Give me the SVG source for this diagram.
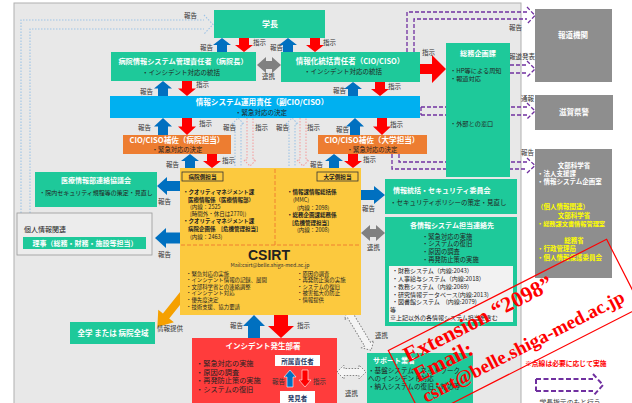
<svg xmlns="http://www.w3.org/2000/svg" width="632" height="403" viewBox="0 0 632 403">
<style>
text{font-family:"Noto Sans CJK JP","Noto Sans",sans-serif}
.g{fill:#1ec99a}
.wb{fill:#fff;font-weight:bold}
.dk{fill:#222}
.lb{font-size:6.5px;fill:#333}
.bu{fill:#0070c0}
.rd{fill:#ff0000}
.gr{fill:#8e8e8e}
.ga{fill:#808080}
.pu{fill:none;stroke:#7030a0;stroke-width:1.3;stroke-dasharray:4 2}
.bd{fill:none;stroke:#9dc3e6;stroke-width:1.1;stroke-dasharray:1.5 1.5}
.rdd{fill:none;stroke:#f4a0a0;stroke-width:1.1;stroke-dasharray:1.5 1.5}
.gd{fill:#f4f4f4;stroke:#777;stroke-width:0.9;stroke-dasharray:1.5 1.5}
.wm{fill:#ff0000;font-family:"Liberation Serif",serif;font-weight:bold}
</style>
<rect width="632" height="403" fill="#fff"/>
<rect x="14" y="3" width="507" height="410" fill="#e8e8e8" stroke="#b0b0b0" stroke-width="1"/>

<g id="connectors">
<path class="bd" d="M21,213 V20 H204 M30,213 V29 H204 M204,15 L213,24.5 L204,34"/>
<path class="bu" d="M222,38 L231,45 H227 V52 H217 V45 H213 Z"/>
<path class="rd" d="M244,52 L253,45 H249 V38 H239 V45 H235 Z"/>
<path class="bu" d="M288,38 L297,45 H293 V52 H283 V45 H279 Z"/>
<path class="rd" d="M315,52 L324,45 H320 V38 H310 V45 H306 Z"/>
<path class="bu" d="M163,81 L172,88.5 H168 V96 H158 V88.5 H154 Z"/>
<path class="rd" d="M187,96 L196,88.5 H192 V81 H182 V88.5 H178 Z"/>
<path class="bu" d="M353,82 L362,89 H358 V96 H348 V89 H344 Z"/>
<path class="rd" d="M380,96 L389,89 H385 V82 H375 V89 H371 Z"/>
<path class="bu" d="M163,118 L172,126.5 H168 V135 H158 V126.5 H154 Z"/>
<path class="rd" d="M187,135 L196,126.5 H192 V118 H182 V126.5 H178 Z"/>
<path class="bu" d="M355,118 L364,126.5 H360 V135 H350 V126.5 H346 Z"/>
<path class="rd" d="M382,135 L391,126.5 H387 V118 H377 V126.5 H373 Z"/>
<path class="bd" d="M235,166 V124 H232 L238,118 L244,124 H241 V166"/>
<path class="rdd" d="M247,118 V160 H244 L250,166 L256,160 H253 V118"/>
<path class="bd" d="M289,166 V124 H286 L292,118 L298,124 H295 V166"/>
<path class="rdd" d="M300,118 V160 H297 L303,166 L309,160 H306 V118"/>
<path class="bu" d="M190,154 L199,161 H195 V168 H185 V161 H181 Z"/>
<path class="rd" d="M212,168 L221,161 H217 V154 H207 V161 H203 Z"/>
<path class="bu" d="M334,154 L343,161 H339 V168 H329 V161 H325 Z"/>
<path class="rd" d="M353,168 L362,161 H358 V154 H348 V161 H344 Z"/>
<path class="bu" d="M254,315 L265,326 H260 V338 H248 V326 H243 Z"/>
<path class="rd" d="M281,338 L294,326 H288 V315 H274 V326 H268 Z"/>
<path class="bu" d="M157,186 L167,177 V181 H180 V191 H167 V195 Z"/>
<path class="bu" d="M155,238 L166,228 V232.5 H180 V243.5 H166 V248 Z"/>
<path class="bu" d="M385,195 L374,186 V190 H361 V200 H374 V204 Z"/>
<path class="ga" d="M257,65 L266,57 V61 H272 V57 L281,65 L272,73 V69 H266 V73 Z"/>
<path class="ga" d="M361,233 L370,225 V229 H376 V225 L385,233 L376,241 V237 H370 V241 Z"/>
<path class="rd" d="M420,64 H432 V55 L446,69 L432,83 V74 H420 Z"/>
<path class="pu" d="M407,52 V12 H527 M414,52 V19 H527 M527,7 L535,15.5 L527,24"/>
<path class="pu" d="M510,65 H527 M510,73 H527 M527,61 L535,69 L527,77"/>
<path class="pu" d="M421,107 V115 M421,107 H527 M421,115 H527 M527,103 L535,111 L527,119"/>
<path class="pu" d="M392,154 V169 H527 M399,154 V162 H527 M527,158 L535,165.5 L527,173"/>
<path fill="#f5a000" transform="translate(186,291) rotate(128.5)" d="M0,-4 H32 V-10 L46,0 L32,10 V4 H0 Z"/>
<path class="gd" transform="translate(347,310) rotate(59)" d="M0,0 L7,-7 V-3.5 H40 V-7 L47,0 L40,7 V3.5 H7 V7 Z"/>
<path class="gd" d="M337,372 L344,365 V368.5 H359 V365 L366,372 L359,379 V375.5 H344 V379 Z"/>
</g>

<g id="labels">
<text class="lb" x="184" y="18">報告</text>
<text class="lb" x="200" y="50">報告</text>
<text class="lb" x="253" y="45">指示</text>
<text class="lb" x="270" y="50">報告</text>
<text class="lb" x="323" y="45">指示</text>
<text class="lb" x="140" y="94">報告</text>
<text class="lb" x="196" y="87">指示</text>
<text class="lb" x="333" y="93">報告</text>
<text class="lb" x="388" y="89">指示</text>
<text class="lb" x="138" y="130">報告</text>
<text class="lb" x="199" y="126">指示</text>
<text class="lb" x="223" y="130">報告</text>
<text class="lb" x="255" y="130">指示</text>
<text class="lb" x="276" y="130">報告</text>
<text class="lb" x="307" y="130">指示</text>
<text class="lb" x="336" y="132">報告</text>
<text class="lb" x="390" y="127">指示</text>
<text class="lb" x="166" y="167">報告</text>
<text class="lb" x="222" y="163">指示</text>
<text class="lb" x="310" y="167">報告</text>
<text class="lb" x="363" y="162">指示</text>
<text class="lb" x="158" y="204">報告</text>
<text class="lb" x="158" y="257">報告</text>
<text class="lb" x="362" y="211">報告</text>
<text class="lb" x="262" y="79">連携</text>
<text class="lb" x="367" y="250">連携</text>
<text class="lb" x="422" y="55">指示</text>
<text class="lb" x="509" y="30">報告</text>
<text class="lb" x="509" y="59">報道発表</text>
<text class="lb" x="521" y="101">通報</text>
<text class="lb" x="521" y="155">報告</text>
<text class="lb" x="230" y="328">報告</text>
<text class="lb" x="297" y="328">指示</text>
<text class="lb" x="157" y="331">情報提供</text>
<text class="lb" x="375" y="338">連携</text>
<text class="lb" x="345" y="396">連携</text>
</g>

<g id="gakucho"><rect class="g" x="214" y="10" width="111" height="28"/><text class="wb" x="270" y="27" font-size="8" text-anchor="middle">学長</text></g>

<g id="byoincho"><rect class="g" x="111" y="52" width="145" height="29"/>
<text class="wb" x="183" y="64" font-size="7.2" text-anchor="middle">病院情報システム管理責任者（病院長）</text>
<text class="dk" x="181" y="75" font-size="6.5" text-anchor="middle">・インシデント対応の統括</text></g>

<g id="cio"><rect class="g" x="281" y="52" width="139" height="30"/>
<text class="wb" x="350" y="64" font-size="7.5" text-anchor="middle">情報化統括責任者（CIO/CISO）</text>
<text class="dk" x="343" y="74" font-size="6.5" text-anchor="middle">・インシデント対応の統括</text></g>

<g id="fukucio"><rect x="110" y="96" width="310" height="22" fill="#00b0f0"/>
<text class="wb" x="262" y="105" font-size="7.6" text-anchor="middle">情報システム運用責任（副CIO/CISO）</text>
<text class="dk" x="261" y="115" font-size="6.5" text-anchor="middle">・緊急対応の決定</text></g>

<g id="hosa-byoin"><rect x="123" y="135" width="108" height="19" fill="#ed7d31"/>
<text class="wb" x="177" y="143" font-size="7.6" text-anchor="middle">CIO/CISO補佐（病院担当）</text>
<text class="dk" x="177" y="152" font-size="6.3" text-anchor="middle">・緊急対応の決定</text></g>

<g id="hosa-daigaku"><rect x="318" y="135" width="109" height="19" fill="#ed7d31"/>
<text class="wb" x="372" y="143" font-size="7.6" text-anchor="middle">CIO/CISO補佐（大学担当）</text>
<text class="dk" x="372" y="152" font-size="6.3" text-anchor="middle">・緊急対応の決定</text></g>

<g id="somu"><rect class="g" x="446" y="43" width="64" height="134"/>
<text class="wb" x="478" y="56" font-size="7.2" text-anchor="middle">総務企画課</text>
<text class="dk" x="450" y="72.5" font-size="6.2">・HP等による周知</text>
<text class="dk" x="450" y="81" font-size="6.2">・報道対応</text>
<text class="dk" x="450" y="126" font-size="6.2">・外部との窓口</text></g>

<g id="iryo"><rect class="g" x="35" y="172" width="122" height="35"/>
<text class="wb" x="96" y="183" font-size="7" text-anchor="middle">医療情報部連絡協議会</text>
<text class="dk" x="96" y="195" font-size="6" text-anchor="middle">・院内セキュリティ規程等の策定・見直し</text></g>

<g id="kojin"><rect x="17" y="213" width="135" height="42" fill="#ececec" stroke="#999" stroke-width="0.8"/>
<text class="dk" x="24" y="232" font-size="7">個人情報関連</text>
<rect class="g" x="23" y="237" width="123" height="12"/>
<text class="wb" x="85" y="246" font-size="7" text-anchor="middle">理事（総務・財務・施設等担当）</text></g>

<g id="csirt"><rect x="180" y="168" width="181" height="147" fill="#fcc93e"/>
<path d="M275,169 V245 M181,245 H360" stroke="#f08030" stroke-width="1" stroke-dasharray="4 2" fill="none"/>
<rect x="182" y="172" width="41" height="9" fill="none" stroke="#333" stroke-width="0.8"/>
<text x="202.5" y="179" font-size="5.6" text-anchor="middle" font-weight="bold" fill="#222">病院側担当</text>
<rect x="317" y="172" width="41" height="9" fill="none" stroke="#333" stroke-width="0.8"/>
<text x="337.5" y="179" font-size="5.6" text-anchor="middle" font-weight="bold" fill="#222">大学側担当</text>
<g font-size="5.5" fill="#222">
<text x="183" y="194" font-weight="bold">・クオリティマネジメント課</text>
<text x="188" y="201.5" font-weight="bold">医療情報係（医療情報部）</text>
<text x="190" y="208.7">(内線：2525</text>
<text x="190" y="215.9">[時間外・休日は2770])</text>
<text x="183" y="223.3" font-weight="bold">・クオリティマネジメント課</text>
<text x="188" y="231" font-weight="bold">病院企画係　[危機管理担当]</text>
<text x="190" y="239">(内線：2463)</text>
<text x="287" y="194" font-weight="bold">・情報課情報総括係</text>
<text x="293" y="202">(MMC)</text>
<text x="297" y="209.5">(内線：2098)</text>
<text x="287" y="217" font-weight="bold">・総務企画課総務係</text>
<text x="292" y="224.5" font-weight="bold">[危機管理担当]</text>
<text x="297" y="232">(内線：2008)</text>
</g>
<text x="269" y="260" font-size="14" font-weight="bold" text-anchor="middle" fill="#222" style="font-family:'Liberation Sans',sans-serif">CSIRT</text>
<text x="270" y="266.5" font-size="5.2" text-anchor="middle" fill="#333">Mail:csirt@belle.shiga-med.ac.jp</text>
<g font-size="5.4" fill="#222">
<text x="186" y="275.5">・緊急対応の実施</text>
<text x="186" y="282">・インシデント情報の記録、展開</text>
<text x="186" y="288.7">・文部科学省との連絡調整</text>
<text x="186" y="295.4">・インシデント対応</text>
<text x="186" y="302.1">・優先度決定</text>
<text x="186" y="308.8">・技術支援、協力要請</text>
<text x="297" y="275.5">・原因の調査</text>
<text x="297" y="282">・再発防止策の実施</text>
<text x="297" y="288.7">・システムの復旧</text>
<text x="297" y="295.4">・被害拡大の防止</text>
<text x="297" y="302.1">・情報提供</text>
</g></g>

<g id="iinkai"><rect class="g" x="385" y="179" width="132" height="35"/>
<text class="wb" x="393" y="193" font-size="7">情報統括・セキュリティ委員会</text>
<text class="dk" x="390" y="205" font-size="6.5">・セキュリティポリシーの策定・見直し</text></g>

<g id="kakujoho"><rect class="g" x="385" y="217" width="132" height="109"/>
<text class="wb" x="452" y="228" font-size="7" text-anchor="middle">各情報システム担当連絡先</text>
<g class="dk" font-size="6.3">
<text x="422" y="238.5">・緊急対応の実施</text>
<text x="422" y="246">・システムの復旧</text>
<text x="422" y="254">・原因の調査</text>
<text x="422" y="262">・再発防止策の実施</text>
</g>
<rect x="389" y="266" width="124" height="56" fill="#f2f2f2"/>
<g class="dk" font-size="6">
<text x="392" y="273">・財務システム（内線:2043）</text>
<text x="392" y="281">・人事給与システム（内線:2018）</text>
<text x="392" y="288.8">・教務システム（内線:2069）</text>
<text x="392" y="296.6">・研究情報データベース(内線:2013)</text>
<text x="392" y="304.4">・図書館システム　(内線:2079)</text>
<text x="390" y="312">等</text>
<text x="390" y="320">※上記以外の各情報システム担当を含む</text>
</g></g>

<g id="zengaku"><rect class="g" x="70" y="322" width="85" height="22"/>
<text class="wb" x="113" y="336" font-size="7.5" text-anchor="middle">全学 または 病院全域</text></g>

<g id="incident"><rect x="192" y="338" width="145" height="70" fill="#ff3c3c"/>
<text class="wb" x="263" y="349" font-size="7.5" text-anchor="middle">インシデント発生部署</text>
<g class="dk" font-size="7.2">
<text x="196" y="366">・緊急対応の実施</text>
<text x="196" y="374.5">・原因の調査</text>
<text x="196" y="383">・再発防止策の実施</text>
<text x="196" y="391.5">・システムの復旧</text>
</g>
<rect x="275" y="355" width="45" height="11" fill="#fff"/>
<text x="297.5" y="363.5" font-size="6.5" text-anchor="middle" font-weight="bold" fill="#1f3864">所属責任者</text>
<path class="bu" stroke="#fff" stroke-width="0.6" d="M290,370 L296,377 H293 V387 H287 V377 H284 Z"/>
<path class="rd" stroke="#fff" stroke-width="0.6" d="M305,387 L311,380 H308 V370 H302 V380 H299 Z"/>
<text class="lb" x="272" y="384">報告</text>
<text class="lb" x="313" y="384">指示</text>
<rect x="280" y="391" width="35" height="15" fill="#fff"/>
<text x="297.5" y="400.5" font-size="6.5" text-anchor="middle" font-weight="bold" fill="#1f3864">発見者</text></g>

<g id="support"><rect class="g" x="367" y="353" width="106" height="50"/>
<text class="wb" x="373" y="363" font-size="7">サポート業者</text>
<g class="dk" font-size="6.6">
<text x="368" y="373">・基盤システム・ネットワーク</text>
<text x="368" y="381">へのインシデント対応</text>
<text x="368" y="389">・納入システムの復旧・対応等</text>
</g></g>

<g id="hodo"><rect class="gr" x="535" y="9" width="77" height="73"/>
<text class="wb" x="573" y="38" font-size="7.5" text-anchor="middle">報道機関</text></g>

<g id="kenkei"><rect class="gr" x="535" y="95" width="78" height="35"/>
<text class="wb" x="574" y="115" font-size="7.5" text-anchor="middle">滋賀県警</text></g>

<g id="monka"><rect class="gr" x="535" y="149" width="77" height="129"/>
<g font-size="6.5" font-weight="bold">
<text x="574" y="167.5" text-anchor="middle" fill="#fff">文部科学省</text>
<text x="537" y="176" fill="#fff">・法人支援課</text>
<text x="537" y="184" fill="#fff">・情報システム企画室</text>
<text x="537" y="209" fill="#ffff00">（個人情報関連）</text>
<text x="574" y="217.5" text-anchor="middle" fill="#ffff00">文部科学省</text>
<text x="537" y="225.5" fill="#ffff00" font-size="6.2">・総務課文書情報管理室</text>
<text x="574" y="242.5" text-anchor="middle" fill="#ffff00">総務省</text>
<text x="537" y="251" fill="#ffff00">・行政管理局</text>
<text x="537" y="259.5" fill="#ffff00">・個人情報保護委員会</text>
</g></g>

<g id="legend">
<text x="525" y="366" font-size="6.8" font-weight="bold" fill="#ff0000">※点線は必要に応じて実施</text>
<path fill="none" stroke="#7030a0" stroke-width="2" stroke-dasharray="5 2.5" d="M536,379 V391 M536,379 H593 M536,391 H593 M593,374 L603,385 L593,396"/>
<text x="570" y="405" font-size="6.8" text-anchor="middle" fill="#333">学長指示のもと行う</text>
</g>

<g id="watermark" transform="translate(475,340) rotate(-27)">
<rect x="-82" y="-30" width="245" height="76" fill="none" stroke="#ff0000" stroke-width="1.2"/>
<text class="wm" x="-70" y="-10" font-size="22">Extension “2098”</text>
<text class="wm" x="-70" y="12" font-size="22">Email:</text>
<text class="wm" x="-72" y="34" font-size="19">csirt@belle.shiga-med.ac.jp</text>
</g>
</svg>
